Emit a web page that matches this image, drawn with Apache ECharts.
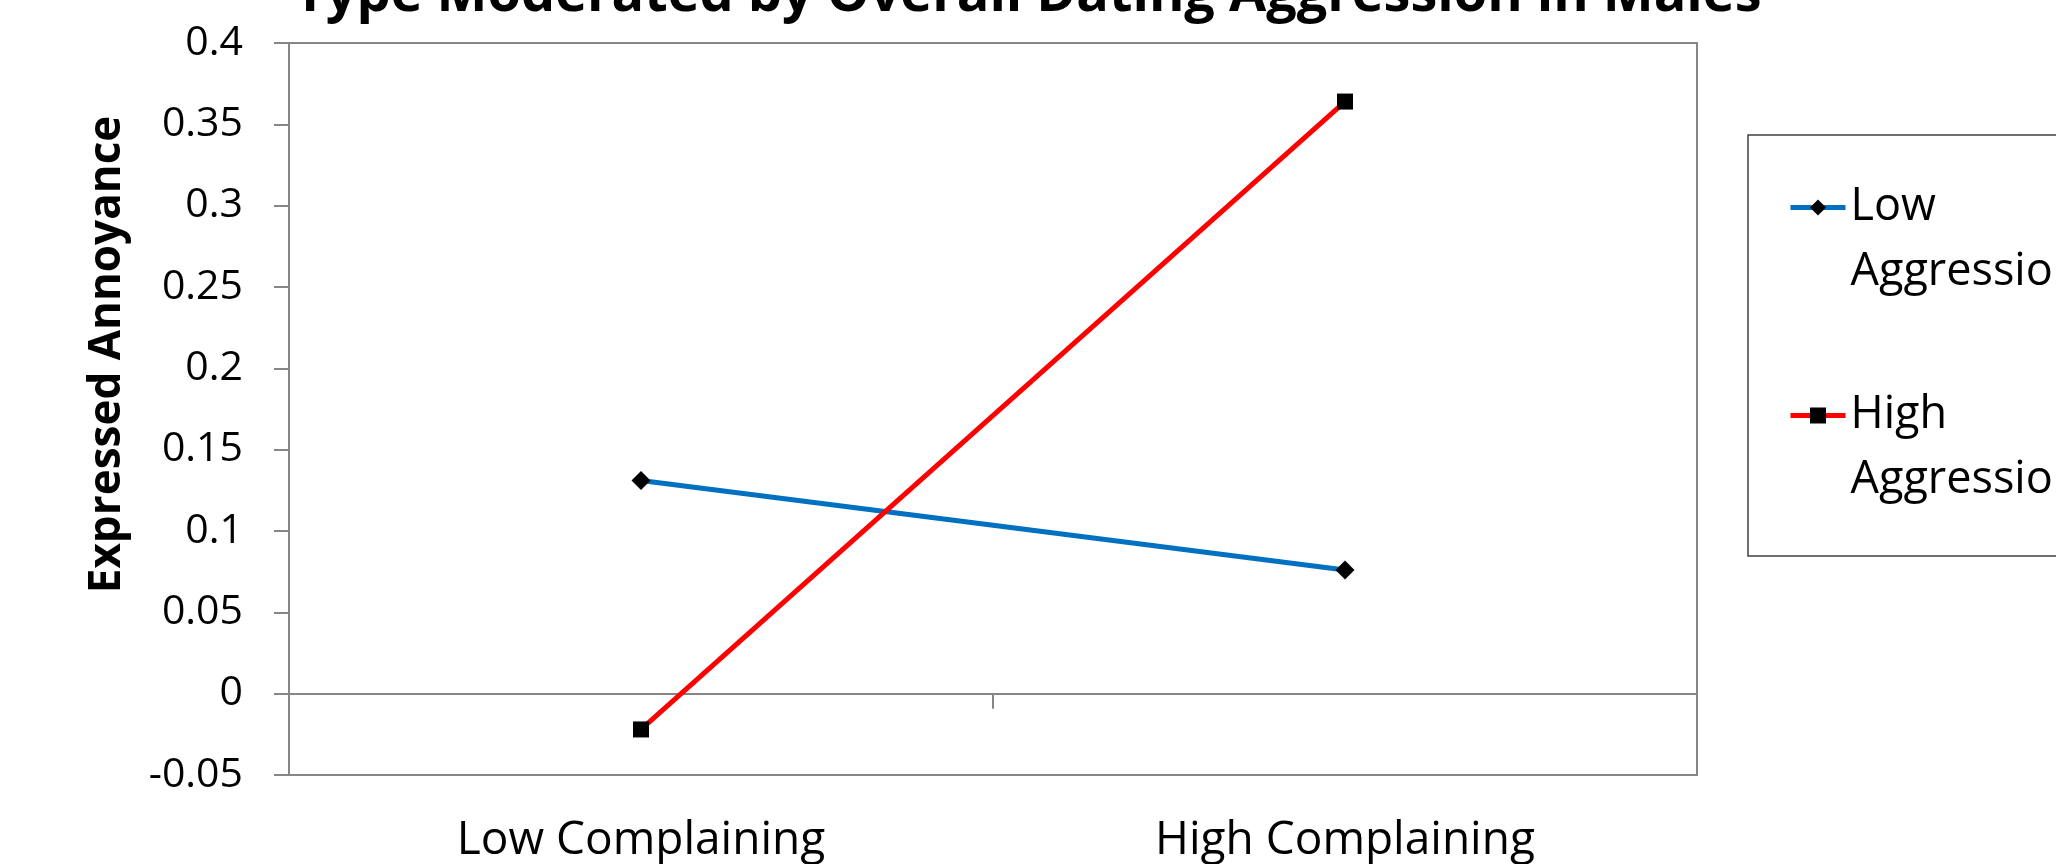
<!DOCTYPE html>
<html>
<head>
<meta charset="utf-8">
<script src="https://cdn.jsdelivr.net/npm/echarts@6/dist/echarts.min.js"></script>
<style>
  html, body { margin: 0; padding: 0; background: #fff; }
  #chart { width: 2056px; height: 864px; }
</style>
</head>
<body>
<div id="chart"></div>
<script>
const titleText = 'Type Moderated by Overall Dating Aggression in Males';
const categories = ['Low Complaining', 'High Complaining'];
const seriesNames = ['Low Aggression', 'High Aggression'];
const lowAggression = [0.131, 0.076];
const highAggression = [-0.022, 0.364];
const yMin = -0.05;
const yMax = 0.4;
const yStep = 0.05;

const chart = echarts.init(document.getElementById('chart'));

const option = {
  backgroundColor: '#fff',
  animation: false,
  title: {
    text: titleText,
    left: 'center',
    top: -36,
    textStyle: { fontFamily: 'Open Sans', fontWeight: 'bold', fontSize: 54, color: '#000' }
  },
  grid: {
    left: 289, right: 359, top: 43, bottom: 89,
    outerBoundsMode: 'none',
    show: true,
    borderColor: '#868686',
    borderWidth: 2
  },
  legend: {
    orient: 'vertical',
    left: 1788,
    top: 110,
    padding: 0,
    itemWidth: 55,
    itemHeight: 20,
    itemGap: 13,
    lineStyle: { width: 5 },
    // empty first line so the icon lines up with the first word
    formatter: name => '\n' + name.replace(' ', '\n'),
    textStyle: { fontFamily: 'Open Sans', fontSize: 45, lineHeight: 65, color: '#000' },
    data: seriesNames
  },
  // legend frame (runs off the right edge like the original)
  graphic: [{
    type: 'rect',
    shape: { x: 1748, y: 135, width: 400, height: 421 },
    style: { fill: 'none', stroke: '#404040', lineWidth: 1.5 },
    silent: true
  }],
  xAxis: {
    type: 'category',
    data: categories,
    boundaryGap: true,
    axisLine: { onZero: true, lineStyle: { color: '#868686', width: 2 } },
    axisTick: { show: true, length: 15, lineStyle: { color: '#868686', width: 2 } },
    axisLabel: { margin: 43, fontFamily: 'Open Sans', fontSize: 46, color: '#000' },
    splitLine: { show: false }
  },
  yAxis: {
    type: 'value',
    min: yMin,
    max: yMax,
    interval: yStep,
    name: 'Expressed Annoyance',
    nameLocation: 'middle',
    nameRotate: 90,
    nameGap: 160,
    nameTextStyle: {
      fontFamily: 'Open Sans', fontWeight: 'bold', fontSize: 44, color: '#000',
      padding: [0, 0, 0, 109]
    },
    axisLine: { show: true, onZero: false, lineStyle: { color: '#868686', width: 2 } },
    axisTick: { show: true, length: 15, lineStyle: { color: '#868686', width: 2 } },
    axisLabel: {
      margin: 46, fontFamily: 'Open Sans', fontSize: 41, color: '#000',
      formatter: v => String(+v.toFixed(2))
    },
    splitLine: { show: false }
  },
  series: [
    {
      name: seriesNames[0],
      type: 'line',
      data: lowAggression,
      symbol: 'diamond',
      symbolSize: 19,
      lineStyle: { color: '#0070C0', width: 5 },
      itemStyle: { color: '#000' },
      z: 3
    },
    {
      name: seriesNames[1],
      type: 'line',
      data: highAggression,
      symbol: 'rect',
      symbolSize: 16,
      lineStyle: { color: '#FF0000', width: 5 },
      itemStyle: { color: '#000' },
      z: 3
    }
  ]
};

chart.setOption(option);
</script>
</body>
</html>
